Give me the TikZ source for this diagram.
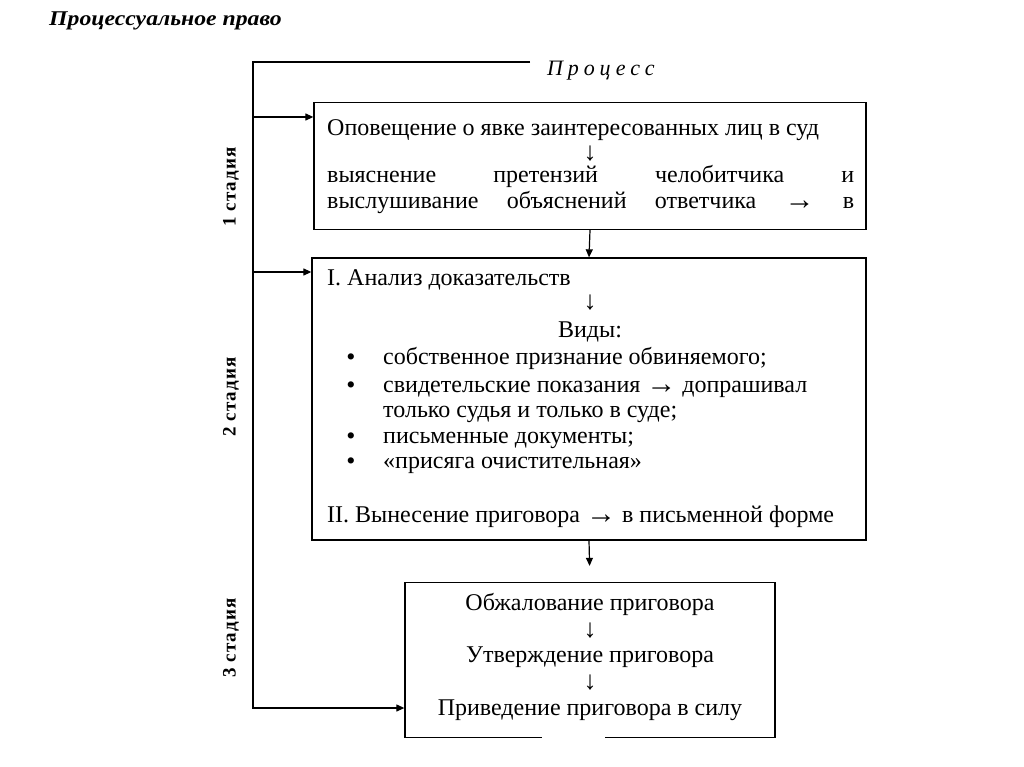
\documentclass[tikz,border=0pt]{standalone}
\usepackage{fontspec}
\setmainfont{Liberation Serif}
\newfontfamily\spacedit[LetterSpace=22]{Liberation Serif}
\newfontfamily\stagefont[LetterSpace=6]{Liberation Serif}
\usetikzlibrary{arrows.meta,calc}
\newcommand{\rar}{{\fontsize{30}{26}\selectfont\raisebox{-1pt}{→}}}
\newcommand{\dar}{{\fontsize{26}{26}\selectfont ↓}}
\begin{document}
\begin{tikzpicture}[x=1pt,y=-1pt,
  box/.style={draw, line width=1.3pt, inner sep=0pt},
  ln/.style={line width=1.2pt},
  arr/.style={line width=1.2pt, -{Triangle[length=8pt,width=7pt]}},
  txt/.style={font=\fontsize{24}{26}\selectfont, inner sep=0pt},
  bul/.style={font=\fontsize{26}{26}\selectfont, inner sep=0pt, anchor=base},
  stage/.style={font=\stagefont\bfseries\fontsize{19}{20}\selectfont, rotate=90, inner sep=0pt}]
\useasboundingbox (0,0) rectangle (1024,767);

% title
\node[anchor=base west, font=\bfseries\itshape\fontsize{21}{24}\selectfont, inner sep=0pt] (title) at (49,26) {\scalebox{1.13}[1]{Процессуальное право}};
\node[anchor=base west, font=\spacedit\itshape\fontsize{22}{24}\selectfont, inner sep=0pt] (proc) at (547,76) {Процесс};

% boxes
\node[box, minimum width=552pt, minimum height=127pt] (b1) at (590,166) {};
\node[box, minimum width=554pt, minimum height=282pt] (b2) at (589,399) {};
\node[box, minimum width=370pt, minimum height=155pt] (b3) at (590,660) {};
\draw[white, line width=3pt] ($(b3.south west)+(138,0)$) -- ($(b3.south west)+(201,0)$);

% box 1 text
\node[txt, anchor=base west] (t11) at (327,136) {Оповещение о явке заинтересованных лиц в суд};
\node[txt] (a11) at (590,154) {\dar};
\node[txt, anchor=base west] (t12) at (327,183) {\hbox to 527pt{выяснение\hfill претензий\hfill челобитчика\hfill и}};
\node[txt, anchor=base west] (t13) at (327,209) {\hbox to 527pt{выслушивание\hfill объяснений\hfill ответчика\hfill \rar\hfill в}};

% box 2 text
\node[txt, anchor=base west] (t21) at (327,285) {I. Анализ доказательств};
\node[txt] (a21) at (590,303) {\dar};
\node[txt, anchor=base] (t22) at (590,337) {Виды:};
\node[bul] (u1) at (351,365) {•};
\node[txt, anchor=base west] (t23) at (383,364) {собственное признание обвиняемого;};
\node[bul] (u2) at (351,393) {•};
\node[txt, anchor=base west] (t24) at (383,392) {свидетельские показания \rar{} допрашивал};
\node[txt, anchor=base west] (t25) at (383,417) {только судья и только в суде;};
\node[bul] (u3) at (351,444) {•};
\node[txt, anchor=base west] (t26) at (383,443) {письменные документы;};
\node[bul] (u4) at (351,469) {•};
\node[txt, anchor=base west] (t27) at (383,468) {«присяга очистительная»};
\node[txt, anchor=base west] (t28) at (327,522) {II. Вынесение приговора \rar{} в письменной форме};

% box 3 text
\node[txt, anchor=base] (t31) at (590,610) {Обжалование приговора};
\node[txt] (a31) at (590,631) {\dar};
\node[txt, anchor=base] (t32) at (590,662) {Утверждение приговора};
\node[txt] (a32) at (590,683) {\dar};
\node[txt, anchor=base] (t33) at (590,715) {Приведение приговора в силу};

% stage labels
\node[stage] (s1) at (231,187) {1 стадия};
\node[stage] (s2) at (231,397) {2 стадия};
\node[stage] (s3) at (231,638) {3 стадия};

% frame and connectors
\coordinate (ftop) at (530,62);
\coordinate (fc) at (253,62);
\coordinate (fb) at (253,708);
\coordinate (f1) at (253,117);
\coordinate (f2) at (253,272);
\draw[arr] (ftop) -- (fc) -- (fb) -- (fb -| b3.west);
\draw[arr] (f1) -- (f1 -| b1.west);
\draw[arr] (f2) -- (f2 -| b2.west);
\draw[arr] (b1.south) -- (b2.north);
\draw[arr, shorten >=16pt] (b2.south) -- (b3.north);
\end{tikzpicture}
\end{document}
